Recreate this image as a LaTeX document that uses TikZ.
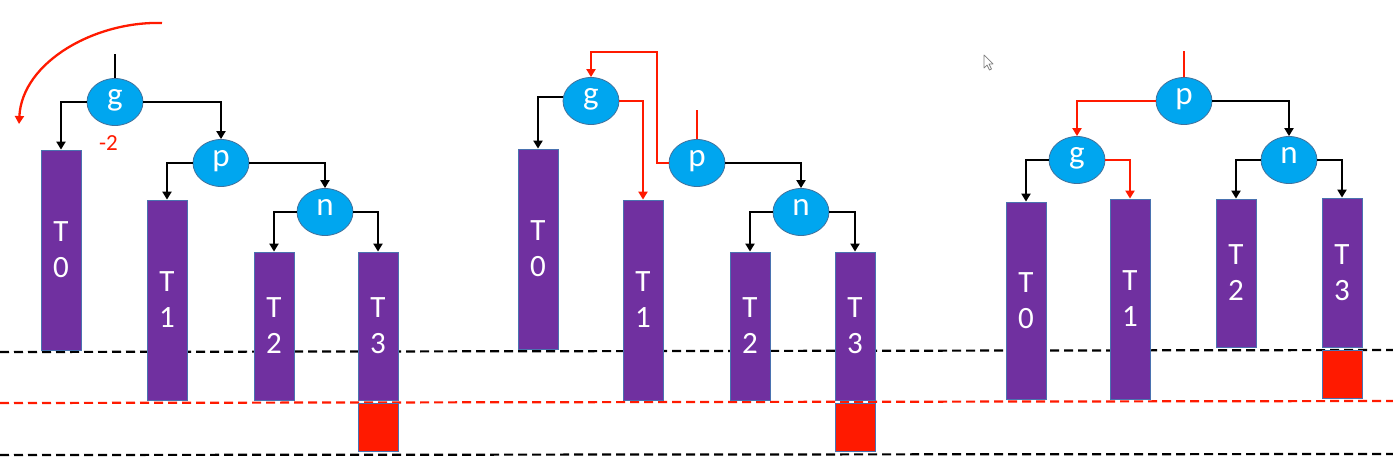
\documentclass[tikz,border=0pt]{standalone}
\usepackage{fontspec}
\setmainfont{Carlito}
\usetikzlibrary{shapes.geometric,arrows.meta}
\definecolor{nodeblue}{HTML}{00A6EF}
\definecolor{nodeline}{HTML}{41719C}
\definecolor{boxpurple}{HTML}{7030A0}
\definecolor{boxline}{HTML}{4A72B0}
\definecolor{myred}{HTML}{FF1A00}
\tikzset{
  vnode/.style={ellipse, fill=nodeblue, draw=nodeline, line width=0.8pt,
    minimum width=56pt, minimum height=47pt, inner sep=0pt, text=white,
    font=\fontsize{33}{40}\selectfont, text height=0.85em, text depth=0.15em},
  tbox/.style={rectangle, fill=boxpurple, draw=boxline, line width=0.8pt,
    minimum width=40pt, inner sep=0pt, text=white, align=center,
    font=\fontsize{31}{36}\selectfont},
  rbox/.style={rectangle, fill=myred, draw=boxline, line width=0.8pt,
    minimum width=40pt, minimum height=48pt, inner sep=0pt},
  edge/.style={draw=black, line width=2.3pt, -{Triangle[length=8pt,width=9pt]}},
  redge/.style={draw=myred, line width=2.3pt, -{Triangle[length=8pt,width=9pt]}},
  stub/.style={line width=2.3pt},
  bdash/.style={draw=black, line width=2.2pt, dash pattern=on 9pt off 5pt},
  rdash/.style={draw=myred, line width=2.2pt, dash pattern=on 9pt off 5pt},
}
\begin{document}
\begin{tikzpicture}[x=1pt,y=-1pt]
\useasboundingbox (0,0) rectangle (1393,463);
\fill[white] (0,0) rectangle (1393,463);
% dashed level lines
\coordinate (dl1) at (0,352); \coordinate (dr1) at (1393,350);
\coordinate (dl2) at (0,403); \coordinate (dr2) at (1393,401);
\coordinate (dl3) at (0,455); \coordinate (dr3) at (1393,454);
\draw[bdash] (dl1) -- (dr1);
\draw[rdash] (dl2) -- (dr2);
\draw[bdash] (dl3) -- (dr3);

% ---------------- panel 1 ----------------
\node[vnode] (g1) at (115,102) {g};
\node[vnode] (p1) at (221,163) {p};
\node[vnode] (n1) at (325,212) {n};
\node[tbox, minimum height=200pt] (a0) at (61,250) {T\\0};
\node[tbox, minimum height=200pt] (a1) at (167,300) {T\\1};
\node[tbox, minimum height=148pt] (a2) at (274,326) {T\\2};
\node[tbox, minimum height=148pt] (a3) at (378,326) {T\\3};
\node[rbox] (ar) at (378,427) {};
\node[text=myred, font=\fontsize{23}{26}\selectfont] (bal) at (108.5,143) {-2};
\coordinate (r1) at (115,54);
\draw[stub] (r1) -- (g1.north);
\draw[edge] (g1.west) -| (a0.north);
\draw[edge] (g1.east) -| (p1.north);
\draw[edge] (p1.west) -| (a1.north);
\draw[edge] (p1.east) -| (n1.north);
\draw[edge] (n1.west) -| (a2.north);
\draw[edge] (n1.east) -| (a3.north);
\coordinate (c1) at (162,23);
\coordinate (c2) at (19,124);
\draw[redge] (c1) .. controls (95,21) and (22,62) .. (c2);

% ---------------- panel 2 ----------------
\node[vnode] (g2) at (591,101) {g};
\node[vnode] (p2) at (697,163) {p};
\node[vnode] (n2) at (801,212) {n};
\node[tbox, minimum height=200pt] (b0) at (538,249) {T\\0};
\node[tbox, minimum height=200pt] (b1) at (643,300) {T\\1};
\node[tbox, minimum height=148pt] (b2) at (750,326) {T\\2};
\node[tbox, minimum height=148pt] (b3) at (855,326) {T\\3};
\node[rbox] (br) at (855,427) {};
\coordinate (r2) at (697,110);
\coordinate (k2) at (657,52);
\draw[stub, draw=myred] (r2) -- (p2.north);
\draw[redge] (p2.west) -| (k2) -| (g2.north);
\draw[edge] (g2.172) -| (b0.north);
\draw[redge] (g2.east) -| (b1.north);
\draw[edge] (p2.east) -| (n2.north);
\draw[edge] (n2.west) -| (b2.north);
\draw[edge] (n2.east) -| (b3.north);

% ---------------- panel 3 ----------------
\node[vnode] (p3) at (1184,101) {p};
\node[vnode] (g3) at (1077,160) {g};
\node[vnode] (n3) at (1289,160) {n};
\node[tbox, minimum height=197pt] (c0) at (1026,300.5) {T\\0};
\node[tbox, minimum height=200pt] (c1b) at (1130,299) {T\\1};
\node[tbox, minimum height=148pt] (c2b) at (1236,273) {T\\2};
\node[tbox, minimum height=149pt] (c3) at (1342,272.5) {T\\3};
\node[rbox] (cr) at (1342,374) {};
\coordinate (r3) at (1184,51);
\draw[stub, draw=myred] (r3) -- (p3.north);
\draw[redge] (p3.west) -| (g3.north);
\draw[edge] (p3.east) -| (n3.north);
\draw[edge] (g3.west) -| (c0.north);
\draw[redge] (g3.east) -| (c1b.north);
\draw[edge] (n3.west) -| (c2b.north);
\draw[edge] (n3.east) -| (c3.north);

% mouse pointer
\draw[fill=white, draw=gray, line width=0.7pt, line join=round]
  (984,55) -- (984,68) -- (987,65) -- (989.5,70) -- (991.5,69) -- (989,64) -- (993,64) -- cycle;
\end{tikzpicture}
\end{document}
